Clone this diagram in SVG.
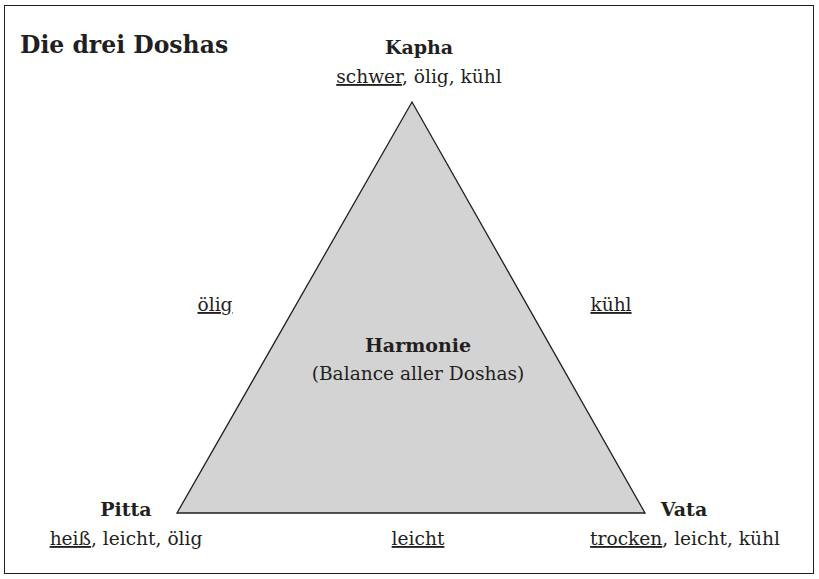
<svg xmlns="http://www.w3.org/2000/svg" width="819" height="579" viewBox="0 0 819 579">
<style>
text{font-family:"DejaVu Serif","Liberation Serif",serif;fill:#231f20;font-size:18.6px}
.b{font-weight:bold;font-size:19px}
.t{font-size:23.5px;font-weight:bold}
.u{text-decoration:underline}
.c{text-anchor:middle}
</style>
<rect x="4.5" y="5.5" width="809" height="568" fill="#fff" stroke="#231f20" stroke-width="1"/>
<text class="t" x="20" y="53">Die drei Doshas</text>
<g id="harmonie">
<polygon points="412,102 177,513 645,513" fill="#d3d3d4" stroke="#231f20" stroke-width="1.3"/>
<text class="b c" x="418" y="352">Harmonie</text>
<text class="c" x="418" y="380">(Balance aller Doshas)</text>
</g>
<g id="kapha">
<text class="b c" x="419" y="54">Kapha</text>
<text class="c" x="419" y="83"><tspan class="u">schwer</tspan>, ölig, kühl</text>
</g>
<g id="pitta">
<text class="b c" x="126" y="516">Pitta</text>
<text class="c" x="126" y="545"><tspan class="u">heiß</tspan>, leicht, ölig</text>
</g>
<g id="vata">
<text class="b c" x="684" y="516">Vata</text>
<text class="c" x="685" y="545"><tspan class="u">trocken</tspan>, leicht, kühl</text>
</g>
<g id="connectors">
<text class="c u" x="215" y="311">ölig</text>
<text class="c u" x="611" y="311">kühl</text>
<text class="c u" x="418" y="545">leicht</text>
</g>
</svg>
